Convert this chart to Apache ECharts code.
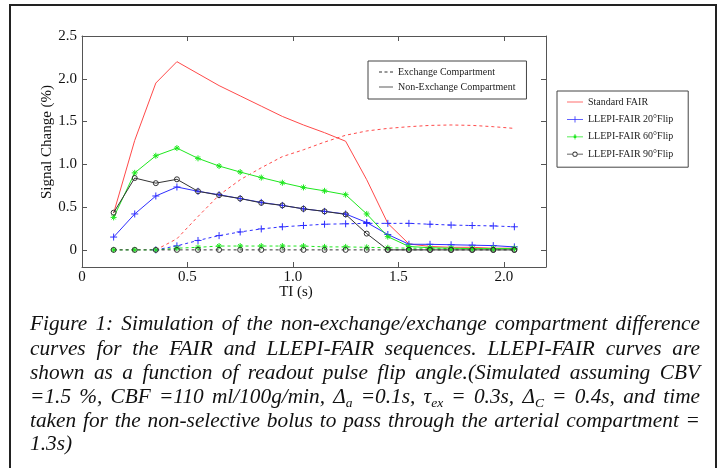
<!DOCTYPE html>
<html>
<head>
<meta charset="utf-8">
<title>FAIR / LLEPI-FAIR simulation</title>
<script src="https://cdn.jsdelivr.net/npm/echarts@6/dist/echarts.min.js"></script>
<style>
  html, body { margin: 0; padding: 0; background: #fff; }
  #chart { width: 721px; height: 468px; }
</style>
</head>
<body>
<div id="chart"></div>
<script>
// inversion times (s)
const tiValues = [0.15, 0.25, 0.35, 0.45, 0.55, 0.65, 0.75, 0.85, 0.95, 1.05,
  1.15, 1.25, 1.35, 1.45, 1.55, 1.65, 1.75, 1.85, 1.95, 2.05]

// signal change (%) - solid = non-exchange, dashed = exchange
const fairNonExchange = [0.43, 1.28, 1.95, 2.20, 2.06, 1.92, 1.80, 1.68, 1.56, 1.46,
  1.37, 1.27, 0.82, 0.31, 0.07, 0.04, 0.03, 0.03, 0.02, 0.02]
const fairExchange = [null, null, 0, 0.13, 0.39, 0.64, 0.82, 0.96, 1.09, 1.17,
  1.26, 1.34, 1.39, 1.42, 1.44, 1.455, 1.46, 1.455, 1.44, 1.42]
const flip20NonExchange = [0.15, 0.42, 0.63, 0.735, 0.685, 0.645, 0.60, 0.555, 0.52, 0.48,
  0.45, 0.42, 0.32, 0.18, 0.066, 0.065, 0.06, 0.055, 0.05, 0.035]
const flip20Exchange = [null, null, 0, 0.047, 0.11, 0.167, 0.21, 0.245, 0.27, 0.285,
  0.30, 0.305, 0.31, 0.31, 0.31, 0.30, 0.29, 0.285, 0.28, 0.27]
const flip60NonExchange = [0.38, 0.90, 1.10, 1.19, 1.07, 0.98, 0.91, 0.845, 0.785, 0.73,
  0.69, 0.645, 0.42, 0.155, 0.04, 0.025, 0.02, 0.015, 0.015, 0.015]
const flip60Exchange = [0, 0, 0, 0.02, 0.03, 0.045, 0.045, 0.045, 0.045, 0.045,
  0.035, 0.035, 0.03, 0.025, 0.02, 0.02, 0.015, 0.015, 0.015, 0.015]
const flip90NonExchange = [0.435, 0.84, 0.78, 0.825, 0.685, 0.64, 0.60, 0.55, 0.52, 0.48,
  0.45, 0.415, 0.19, 0, 0, 0, 0, 0, 0, 0]
const flip90Exchange = [0, 0, 0, 0, 0, 0, 0, 0, 0, 0,
  0, 0, 0, 0, 0, 0, 0, 0, 0, 0]

const xTicks = [0, 0.5, 1, 1.5, 2]
const yTicks = [0, 0.5, 1, 1.5, 2, 2.5]

const captionLines = [
  'Figure 1: Simulation of the non-exchange/exchange compartment difference',
  'curves for the FAIR and LLEPI-FAIR sequences. LLEPI-FAIR curves are',
  'shown as a function of readout pulse flip angle.(Simulated assuming CBV',
  '=1.5 %, CBF =110 ml/100g/min, Δ_{a} =0.1s, τ_{ex} = 0.3s, Δ_{C} = 0.4s, and time',
  'taken for the non-selective bolus to pass through the arterial compartment =',
  '1.3s)'
]

const SERIF = '"Liberation Serif", "Times New Roman", serif'
const RED = '#ff4a4a'
const BLUE = '#2f2fff'
const GREEN = '#1ee81e'
const BLACK = '#333'
const AXIS = '#555'

const plusSym = 'path://M0,4L8,4M4,0L4,8'
const starSym = 'path://M0,4L8,4M4,0L4,8M1.3,1.3L6.7,6.7M6.7,1.3L1.3,6.7'

// legend keys (line + marker), drawn as filled paths
const keyLine = 'path://M0,3.6h16v0.8h-16z'
const keyPlus = 'path://M0,3.6h16v0.8h-16zM7.6,0.8h0.8v6.4h-0.8z'
const keyStar = 'path://M0,3.6h16v0.8h-16zM6.7,2.7h2.6v2.6h-2.6zM7.6,1.3h0.8v5.4h-0.8z'
const keyRing = 'path://M0,3.6h5.6v0.8h-5.6zM10.4,3.6h5.6v0.8h-5.6z' +
  'M5.4,4A2.6,2.6 0 0,1 10.6,4A2.6,2.6 0 0,1 5.4,4Z' +
  'M6.2,4A1.8,1.8 0 0,0 9.8,4A1.8,1.8 0 0,0 6.2,4Z'
const keySolid = 'path://M0,3.6h14v0.8h-14z'
const keyDash = 'path://M0,3.6h3v0.8h-3zM5.5,3.6h3v0.8h-3zM11,3.6h3v0.8h-3z'

function pairs(vals) {
  return tiValues.map((t, i) => [t, vals[i] == null ? '-' : vals[i]])
}

function lineSeries(name, vals, color, dashed, symbol, size, fill) {
  return {
    name: name,
    type: 'line',
    data: pairs(vals),
    symbol: symbol || 'none',
    symbolSize: size || 6,
    showAllSymbol: true,
    lineStyle: { color: color, width: 1, type: dashed ? [3, 3] : 'solid' },
    itemStyle: { color: fill || color, borderColor: color, borderWidth: 1 },
    emphasis: { disabled: true },
    silent: true
  }
}

function fmt(v) {
  return v === 0 ? '0' : v.toFixed(1)
}

// justified caption, each word placed on its own
const CAP_LEFT = 30
const CAP_RIGHT = 700
const CAP_SIZE = 20.5
const SUB_SIZE = 13
const CAP_GAP = 6
const capBaselines = [331, 356, 380, 404, 428, 451]
const measureCtx = document.createElement('canvas').getContext('2d')

function measure(text, size) {
  measureCtx.font = 'italic ' + size + 'px ' + SERIF
  return measureCtx.measureText(text).width
}

function parseWord(word) {
  return word.split(/(_\{[^}]*\})/).filter(s => s.length).map(s => {
    const m = s.match(/^_\{(.*)\}$/)
    return m ? { t: m[1], sub: true } : { t: s, sub: false }
  })
}

function captionGraphics() {
  const lines = captionLines.map(line => {
    const words = line.split(' ').map(parseWord)
    const widths = words.map(segs => segs.reduce((a, s) => a + measure(s.t, s.sub ? SUB_SIZE : CAP_SIZE), 0))
    return { words, widths, total: widths.reduce((a, b) => a + b, 0) }
  })
  // widen glyphs a touch so the tightest justified line keeps CAP_GAP between words
  let sx = 1.04
  lines.slice(0, -1).forEach(l => {
    sx = Math.min(sx, (CAP_RIGHT - CAP_LEFT - (l.words.length - 1) * CAP_GAP) / l.total)
  })
  sx = Math.max(sx, 1)
  const out = []
  lines.forEach((l, li) => {
    const last = li === lines.length - 1
    const gap = last ? CAP_GAP : (CAP_RIGHT - CAP_LEFT - l.total * sx) / (l.words.length - 1)
    let x = CAP_LEFT
    const base = capBaselines[li]
    l.words.forEach(segs => {
      segs.forEach(s => {
        const size = s.sub ? SUB_SIZE : CAP_SIZE
        out.push({
          type: 'text',
          x: x,
          y: s.sub ? base + 4 - 0.305 * size : base - 0.305 * size,
          scaleX: sx,
          silent: true,
          style: {
            text: s.t,
            fontSize: size,
            fontStyle: 'italic',
            fontFamily: SERIF,
            fill: '#111',
            align: 'left',
            verticalAlign: 'middle'
          }
        })
        x += measure(s.t, size) * sx
      })
      x += gap
    })
  })
  return out
}

const chart = echarts.init(document.getElementById('chart'), null, { renderer: 'canvas' })

function frameAxis(position, min, max, ticks) {
  return {
    type: 'value',
    position: position,
    min: min,
    max: max,
    axisLine: { show: true, onZero: false, lineStyle: { color: AXIS, width: 1 } },
    axisTick: { show: true, inside: true, length: 5, customValues: ticks, lineStyle: { color: AXIS } },
    axisLabel: { show: false },
    splitLine: { show: false }
  }
}

const xBottom = frameAxis('bottom', 0, 2.2, xTicks)
xBottom.axisLabel = { customValues: xTicks, formatter: fmt, color: '#111', fontFamily: SERIF, fontSize: 15, margin: 3 }
const yLeft = frameAxis('left', -0.2, 2.5, yTicks)
yLeft.axisLabel = { customValues: yTicks, formatter: fmt, color: '#111', fontFamily: SERIF, fontSize: 15, margin: 5 }

const legendBase = {
  orient: 'vertical',
  itemHeight: 10,
  borderColor: '#444',
  borderWidth: 1,
  selectedMode: false,
  itemStyle: { borderWidth: 0 },
  textStyle: { fontFamily: SERIF, fontSize: 10, color: '#222' }
}

const option = {
  animation: false,
  backgroundColor: '#fff',
  grid: { left: 82, right: 175, top: 36, bottom: 201, containLabel: false },
  xAxis: [xBottom, frameAxis('top', 0, 2.2, xTicks)],
  yAxis: [yLeft, frameAxis('right', -0.2, 2.5, yTicks)],
  legend: [
    Object.assign({}, legendBase, {
      data: [
        { name: 'Exchange Compartment', icon: keyDash },
        { name: 'Non-Exchange Compartment', icon: keySolid }
      ],
      left: 368,
      top: 61,
      padding: [6, 11, 7, 11],
      itemWidth: 14,
      itemGap: 5
    }),
    Object.assign({}, legendBase, {
      data: [
        { name: 'Standard FAIR', icon: keyLine },
        { name: 'LLEPI-FAIR 20°Flip', icon: keyPlus },
        { name: 'LLEPI-FAIR 60°Flip', icon: keyStar },
        { name: 'LLEPI-FAIR 90°Flip', icon: keyRing, itemStyle: { color: BLACK, borderWidth: 0 } }
      ],
      left: 557,
      top: 91,
      padding: [6, 15, 8, 10],
      itemWidth: 16,
      itemGap: 7.4
    })
  ],
  series: [
    lineSeries('Standard FAIR', fairNonExchange, RED, false),
    lineSeries('Standard FAIR (exchange)', fairExchange, RED, true),
    lineSeries('LLEPI-FAIR 20°Flip', flip20NonExchange, BLUE, false, plusSym, 7),
    lineSeries('LLEPI-FAIR 20°Flip (exchange)', flip20Exchange, BLUE, true, plusSym, 7),
    lineSeries('LLEPI-FAIR 60°Flip', flip60NonExchange, GREEN, false, starSym, 6),
    lineSeries('LLEPI-FAIR 60°Flip (exchange)', flip60Exchange, GREEN, true, starSym, 6),
    lineSeries('LLEPI-FAIR 90°Flip (exchange)', flip90Exchange, BLACK, true, 'circle', 5, 'rgba(255,255,255,0)'),
    lineSeries('LLEPI-FAIR 90°Flip', flip90NonExchange, BLACK, false, 'circle', 5, 'rgba(255,255,255,0)'),
    // style keys for the first legend
    { name: 'Exchange Compartment', type: 'line', data: [], symbol: 'none',
      lineStyle: { color: BLACK, width: 1, type: [3, 3] }, itemStyle: { color: BLACK } },
    { name: 'Non-Exchange Compartment', type: 'line', data: [], symbol: 'none',
      lineStyle: { color: BLACK, width: 1 }, itemStyle: { color: BLACK } }
  ],
  graphic: [
    {
      type: 'rect',
      silent: true,
      shape: { x: 10, y: 5, width: 706, height: 480 },
      style: { fill: 'none', stroke: '#222', lineWidth: 2 }
    },
    {
      type: 'text',
      x: 47,
      y: 142,
      rotation: Math.PI / 2,
      silent: true,
      style: { text: 'Signal Change (%)', fontSize: 15, fontFamily: SERIF, fill: '#111', align: 'center', verticalAlign: 'middle' }
    },
    {
      type: 'text',
      x: 296,
      y: 292,
      silent: true,
      style: { text: 'TI (s)', fontSize: 15, fontFamily: SERIF, fill: '#111', align: 'center', verticalAlign: 'middle' }
    }
  ].concat(captionGraphics())
}

chart.setOption(option)
</script>
</body>
</html>
